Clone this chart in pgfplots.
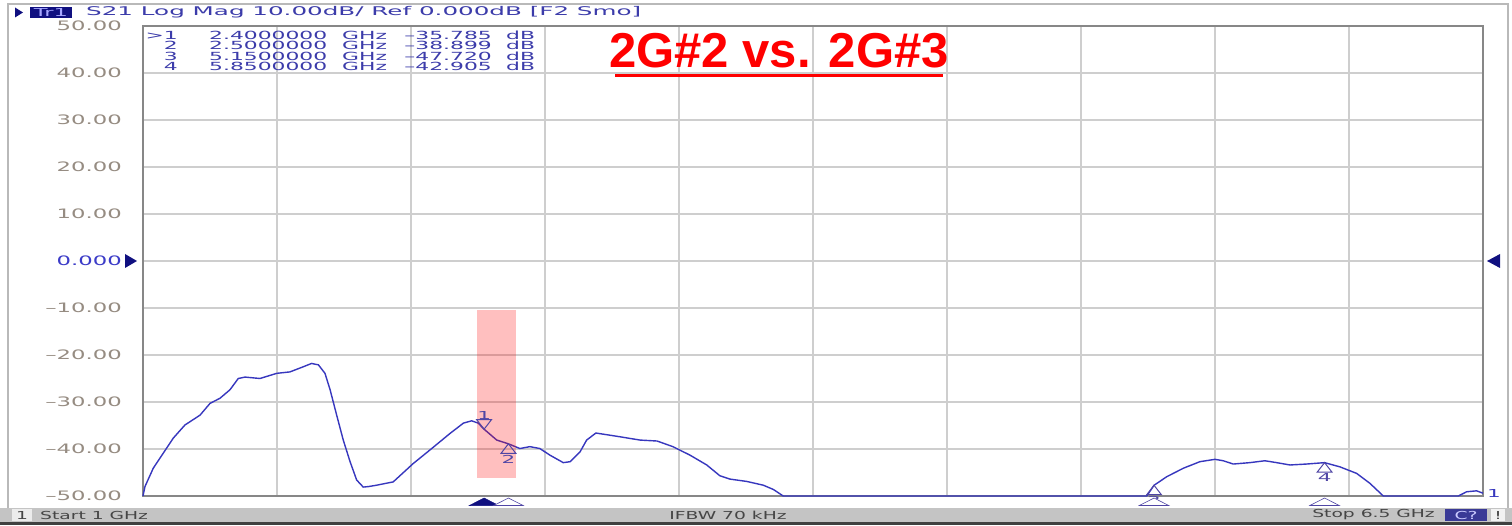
\documentclass[border=0pt]{standalone}
\usepackage{pgfplots}
\pgfplotsset{compat=1.18}
\usepackage{fontspec}
\setmainfont{DejaVu Sans}
\newfontfamily\hdrfont[FakeStretch=2.05]{DejaVu Sans}
\newfontfamily\ylabfont[FakeStretch=1.75]{DejaVu Sans}
\newfontfamily\tabfont[FakeStretch=1.95]{DejaVu Sans}
\newfontfamily\statfont[FakeStretch=1.7]{DejaVu Sans}
\newfontfamily\titlefont{Liberation Sans}
\definecolor{trace}{RGB}{55,55,190}
\definecolor{mk}{RGB}{80,70,165}
\definecolor{navy}{RGB}{16,16,128}
\definecolor{hdrblue}{RGB}{60,60,170}
\definecolor{labgray}{RGB}{150,140,130}
\definecolor{zeroblue}{RGB}{60,60,200}
\definecolor{gridgray}{RGB}{206,206,206}
\definecolor{framegray}{RGB}{135,135,135}
\definecolor{statgray}{RGB}{196,196,196}
\definecolor{stattext}{RGB}{70,70,70}
\definecolor{cnavy}{RGB}{58,58,150}
\begin{document}
\begin{tikzpicture}[x=1pt,y=1pt]
\fill[white] (0,0) rectangle (1512,525);
% status bar
\fill[statgray] (0,3) rectangle (1512,17);
\fill[black!75] (0,0) rectangle (1512,3);
% outer frame
\draw[draw=gray!55, line width=2pt] (8,17) -- (8,521) -- (1508,521) -- (1508,17);
\begin{axis}[
  at={(143pt,29pt)}, anchor=south west,
  scale only axis, width=1340pt, height=470pt,
  xmin=1, xmax=6.5, ymin=-50, ymax=50,
  xtick={1.55,2.1,2.65,3.2,3.75,4.3,4.85,5.4,5.95},
  xticklabels={},
  ytick={-50,-40,-30,-20,-10,0,10,20,30,40,50},
  yticklabels={–50.00,–40.00,–30.00,–20.00,–10.00,{\textcolor{zeroblue}{0.000}},10.00,20.00,30.00,40.00,50.00},
  yticklabel style={font=\ylabfont\fontsize{13}{13}\selectfont, text=labgray, anchor=east, inner sep=0pt, xshift=-21pt},
  grid=major,
  major grid style={draw=gridgray, line width=1.4pt},
  axis line style={draw=framegray, line width=1.6pt},
  tick style={draw=none},
  clip=false,
]
\addplot[trace, line width=1.4pt] coordinates {
(1.000,-50.0) (1.008,-48.0) (1.042,-44.1) (1.083,-40.9) (1.124,-37.7)
(1.172,-34.9) (1.234,-32.8) (1.275,-30.3) (1.316,-29.2) (1.357,-27.4)
(1.391,-25.0) (1.419,-24.7) (1.480,-25.0) (1.549,-23.9) (1.603,-23.6)
(1.658,-22.5) (1.692,-21.8) (1.720,-22.1) (1.747,-23.9) (1.768,-27.4)
(1.795,-32.8) (1.822,-38.1) (1.850,-42.7) (1.877,-46.6) (1.904,-48.1)
(1.925,-48.0) (1.959,-47.7) (2.027,-47.0) (2.109,-43.1) (2.178,-40.2)
(2.260,-36.7) (2.315,-34.5) (2.349,-34.0) (2.376,-34.5) (2.400,-35.785)
(2.452,-38.1) (2.500,-38.899) (2.547,-39.9) (2.588,-39.5) (2.629,-39.9)
(2.670,-41.3) (2.725,-42.9) (2.753,-42.7) (2.794,-40.6) (2.821,-38.1)
(2.859,-36.6) (2.958,-37.4) (3.040,-38.1) (3.110,-38.3) (3.175,-39.5)
(3.245,-41.3) (3.314,-43.4) (3.368,-45.7) (3.409,-46.4) (3.478,-46.9)
(3.546,-47.7) (3.587,-48.6) (3.628,-50.0) (5.120,-50.0) (5.150,-47.72)
(5.202,-45.9) (5.270,-44.1) (5.338,-42.7) (5.400,-42.2) (5.434,-42.5)
(5.475,-43.2) (5.544,-42.9) (5.605,-42.5) (5.653,-42.9) (5.708,-43.4)
(5.776,-43.2) (5.850,-42.905) (5.913,-43.8) (5.982,-45.2) (6.036,-47.3)
(6.091,-50.0) (6.399,-50.0) (6.433,-49.1) (6.474,-48.9) (6.500,-49.4)
};
% highlight band
\fill[red, opacity=0.25] (axis cs:2.371,-10.4) rectangle (axis cs:2.531,-46.2);
% marker 1 (active, pointing down)
\addplot[only marks, mark=triangle, mark size=6.3pt, mark options={yshift=6.3pt, yscale=-1, xscale=1.35, draw=mk, line width=1pt}] coordinates {(2.4,-35.785)};
% markers 2,3,4
\addplot[only marks, mark=triangle, mark size=6.3pt, mark options={yshift=-6.3pt, xscale=1.35, draw=mk, line width=1pt}] coordinates {(2.5,-38.899) (5.15,-47.72) (5.85,-42.905)};
% marker position indicators under the axis
\addplot[only marks, mark=triangle*, mark size=5pt, mark options={yshift=-5pt, xscale=3.4, fill=navy, draw=navy, line width=0.5pt}] coordinates {(2.4,-50.43)};
\addplot[only marks, mark=triangle*, mark size=5pt, mark options={yshift=-5pt, xscale=3.4, fill=white, draw=mk, line width=0.6pt}] coordinates {(2.5,-50.43) (5.15,-50.43) (5.85,-50.43)};
% marker numbers
\node[font=\tabfont\fontsize{11}{11}\selectfont, text=mk] at (axis cs:2.4,-35.785) [yshift=14pt] {1};
\node[font=\tabfont\fontsize{11}{11}\selectfont, text=mk] at (axis cs:2.5,-38.899) [yshift=-16pt] {2};
\node[font=\tabfont\fontsize{11}{11}\selectfont, text=mk] at (axis cs:5.15,-47.72) [yshift=-15pt] {3};
\node[font=\tabfont\fontsize{11}{11}\selectfont, text=mk] at (axis cs:5.85,-42.905) [yshift=-15pt] {4};
\node[font=\tabfont\fontsize{11}{11}\selectfont, text=trace, anchor=west, inner sep=0pt] at (axis cs:6.5,-49.5) [xshift=4pt] {1};
\end{axis}
% reference level arrows
\fill[navy] (125,271) -- (125,257) -- (137,264) -- cycle;
\fill[navy] (1500,271) -- (1500,257) -- (1487,264) -- cycle;
% header
\fill[navy] (15,517.5) -- (15,507.5) -- (23,512.5) -- cycle;
\fill[navy] (30,507) rectangle (72,518);
\node[font=\hdrfont\fontsize{11}{11}\selectfont, text=white!65!blue, inner sep=0pt] at (51,512.5) {Tr1};
\node[anchor=west, font=\hdrfont\fontsize{12}{12}\selectfont, text=hdrblue, inner sep=0pt] at (86,512.5) {S21 Log Mag 10.00dB/ Ref 0.000dB [F2 Smo]};
% marker table
\begin{scope}[every node/.style={font=\tabfont\fontsize{11.2}{11.2}\selectfont, text=hdrblue, inner sep=0pt}]
\node[anchor=east] at (178,490) {>1};
\node[anchor=east] at (178,479.5) {2};
\node[anchor=east] at (178,469) {3};
\node[anchor=east] at (178,458.5) {4};
\node[anchor=west] at (209,490) {2.4000000};
\node[anchor=west] at (209,479.5) {2.5000000};
\node[anchor=west] at (209,469) {5.1500000};
\node[anchor=west] at (209,458.5) {5.8500000};
\node[anchor=west] at (342,490) {GHz};
\node[anchor=west] at (342,479.5) {GHz};
\node[anchor=west] at (342,469) {GHz};
\node[anchor=west] at (342,458.5) {GHz};
\node[anchor=east] at (492,490) {–35.785};
\node[anchor=east] at (492,479.5) {–38.899};
\node[anchor=east] at (492,469) {–47.720};
\node[anchor=east] at (492,458.5) {–42.905};
\node[anchor=west] at (506,490) {dB};
\node[anchor=west] at (506,479.5) {dB};
\node[anchor=west] at (506,469) {dB};
\node[anchor=west] at (506,458.5) {dB};
\end{scope}
% title
\node[font=\titlefont\bfseries\fontsize{49}{49}\selectfont, text=red] at (779,474.5) {2G\#2 vs. 2G\#3};
\draw[red, line width=2.5pt] (615,449.5) -- (943,449.5);
% status bar texts
\fill[white!85!gray] (12,4) rectangle (32,16);
\begin{scope}[every node/.style={font=\statfont\fontsize{11}{11}\selectfont, text=stattext, inner sep=0pt}]
\node at (22,10) {1};
\node[anchor=west] at (40,10) {Start 1 GHz};
\node at (728,10) {IFBW 70 kHz};
\node[anchor=east] at (1435,10) {Stop 6.5 GHz};
\end{scope}
\fill[cnavy] (1445,4) rectangle (1487,16);
\node[font=\statfont\fontsize{11}{11}\selectfont, text=white!80!blue, inner sep=0pt] at (1466,10) {C?};
\fill[white!90!gray] (1491,4) rectangle (1505,16);
\node[font=\statfont\fontsize{11}{11}\selectfont, text=stattext, inner sep=0pt] at (1498,10) {!};
\pgfresetboundingbox
\useasboundingbox (0,0) rectangle (1512,525);
\end{tikzpicture}
\end{document}
